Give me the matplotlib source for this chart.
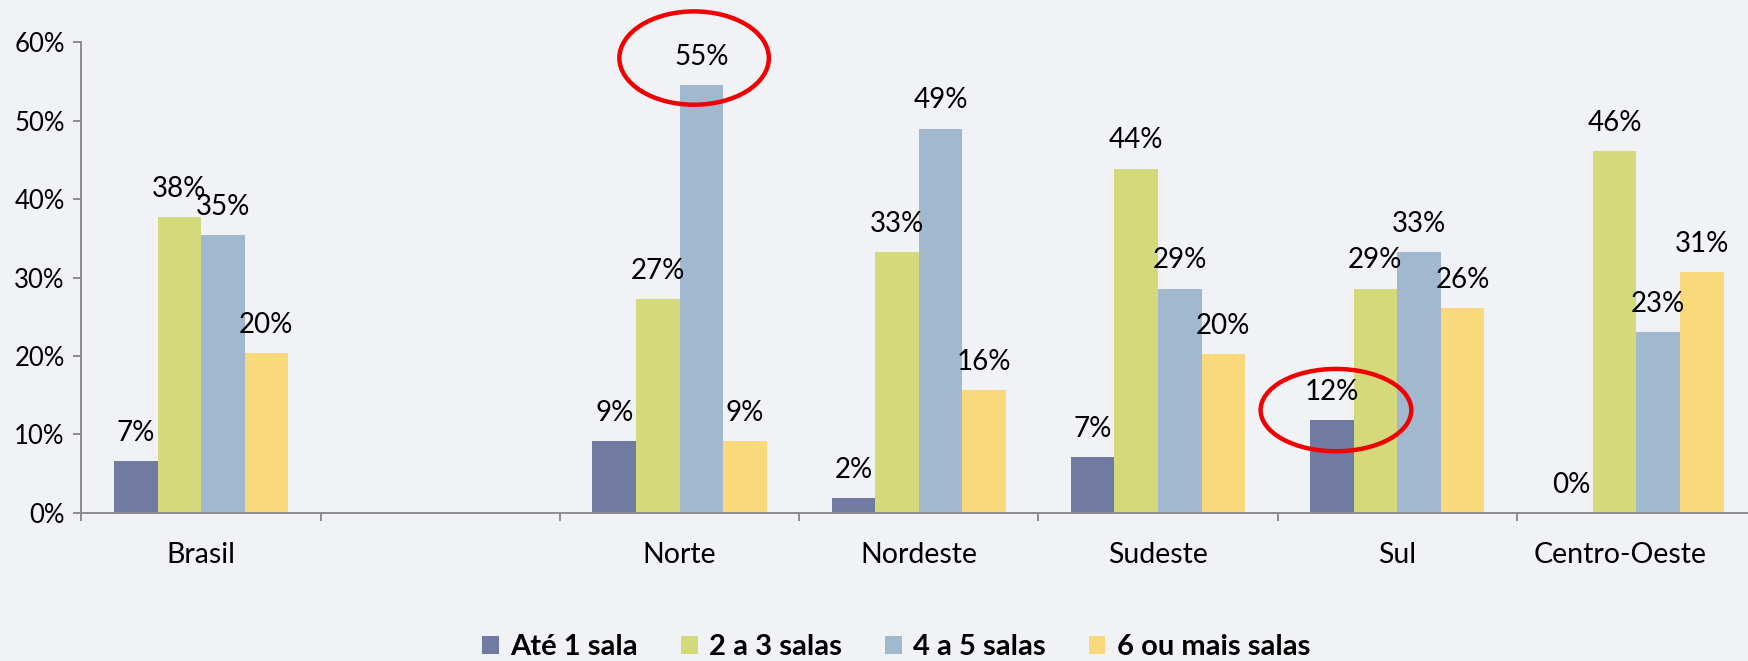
"Salas por estabelecimento, Brasil e regiões."
import numpy as np
import matplotlib.pyplot as plt
from matplotlib.patches import Ellipse
from matplotlib.transforms import ScaledTranslation

plt.rcParams['font.family'] = ['Lato', 'DejaVu Sans']

categories = ["Brasil", "", "Norte", "Nordeste", "Sudeste", "Sul", "Centro-Oeste"]
series_names = ["Até 1 sala", "2 a 3 salas", "4 a 5 salas", "6 ou mais salas"]
nan = np.nan
ate_1 = [6.6, nan, 9.1, 1.9, 7.1, 11.8, 0.0]
de_2_a_3 = [37.7, nan, 27.3, 33.3, 43.9, 28.6, 46.1]
de_4_a_5 = [35.4, nan, 54.6, 49.0, 28.6, 33.3, 23.0]
mais_de_6 = [20.4, nan, 9.1, 15.6, 20.3, 26.1, 30.7]
yticks = [0, 10, 20, 30, 40, 50, 60]

# labels circled in red: (region, series index), ellipse (dx, dy, width, height)
highlights = [("Norte", 2, (-0.03, 3.4, 0.625, 11.9)),
              ("Sul", 0, (0.017, 1.3, 0.63, 10.5))]

colors = ["#717AA0", "#D4DA7C", "#A2B8CF", "#F9D97B"]
bg = "#F1F2F6"
axis_gray = "#8C8C8C"

fig = plt.figure(figsize=(17.48, 6.61), dpi=100, facecolor=bg)
ax = fig.add_axes([0.0466, 0.2242, 0.958, 0.7117])
ax.set_facecolor(bg)

x = np.arange(len(categories))
w = 0.182
series = [ate_1, de_2_a_3, de_4_a_5, mais_de_6]
for i, (vals, name, c) in enumerate(zip(series, series_names, colors)):
    xs = x + (i - 1.5) * w
    ax.bar(xs, vals, width=w, color=c, label=name, linewidth=0)
    for xi, v in zip(xs, vals):
        if np.isnan(v):
            continue
        ax.annotate(f"{v:.0f}%", (xi, v), xytext=(0, 14.5),
                    textcoords="offset points", ha="center", va="baseline",
                    fontsize=20, color="black")

for region, i, (dx, dy, ew, eh) in highlights:
    k = categories.index(region)
    v = series[i][k]
    ax.add_patch(Ellipse((k + (i - 1.5) * w + dx, v + dy), ew, eh,
                         fill=False, edgecolor="#F00000", linewidth=3.2,
                         clip_on=False, zorder=5))

ax.set_xlim(-0.5, len(categories) - 0.5)
ax.set_ylim(0, 60)
ax.set_yticks(yticks)
ax.set_yticklabels([f"{t}%" for t in yticks], fontsize=18.5)
ax.set_xticks(x)
ax.set_xticklabels(categories, fontsize=20.5)
ax.set_xticks(np.arange(len(categories) + 1) - 0.5, minor=True)
ax.tick_params(axis="x", which="major", length=0, pad=21)
ax.tick_params(axis="x", which="minor", length=6, width=1.4, color=axis_gray)
ax.tick_params(axis="y", length=6, width=1.4, color=axis_gray, pad=6)

lbl = ax.get_xticklabels()[-1]
lbl.set_transform(lbl.get_transform() + ScaledTranslation(-0.16, 0, fig.dpi_scale_trans))

for side in ["top", "right"]:
    ax.spines[side].set_visible(False)
for side in ["left", "bottom"]:
    ax.spines[side].set_color(axis_gray)
    ax.spines[side].set_linewidth(1.4)

ax.legend(loc="center", bbox_to_anchor=(0.5126, 0.021), bbox_transform=fig.transFigure,
          ncol=4, frameon=False, handlelength=0.57, handleheight=0.57,
          handletextpad=0.38, columnspacing=1.49,
          prop={"weight": "bold", "size": 21})

fig.savefig("out.png", dpi=100, facecolor=bg)
